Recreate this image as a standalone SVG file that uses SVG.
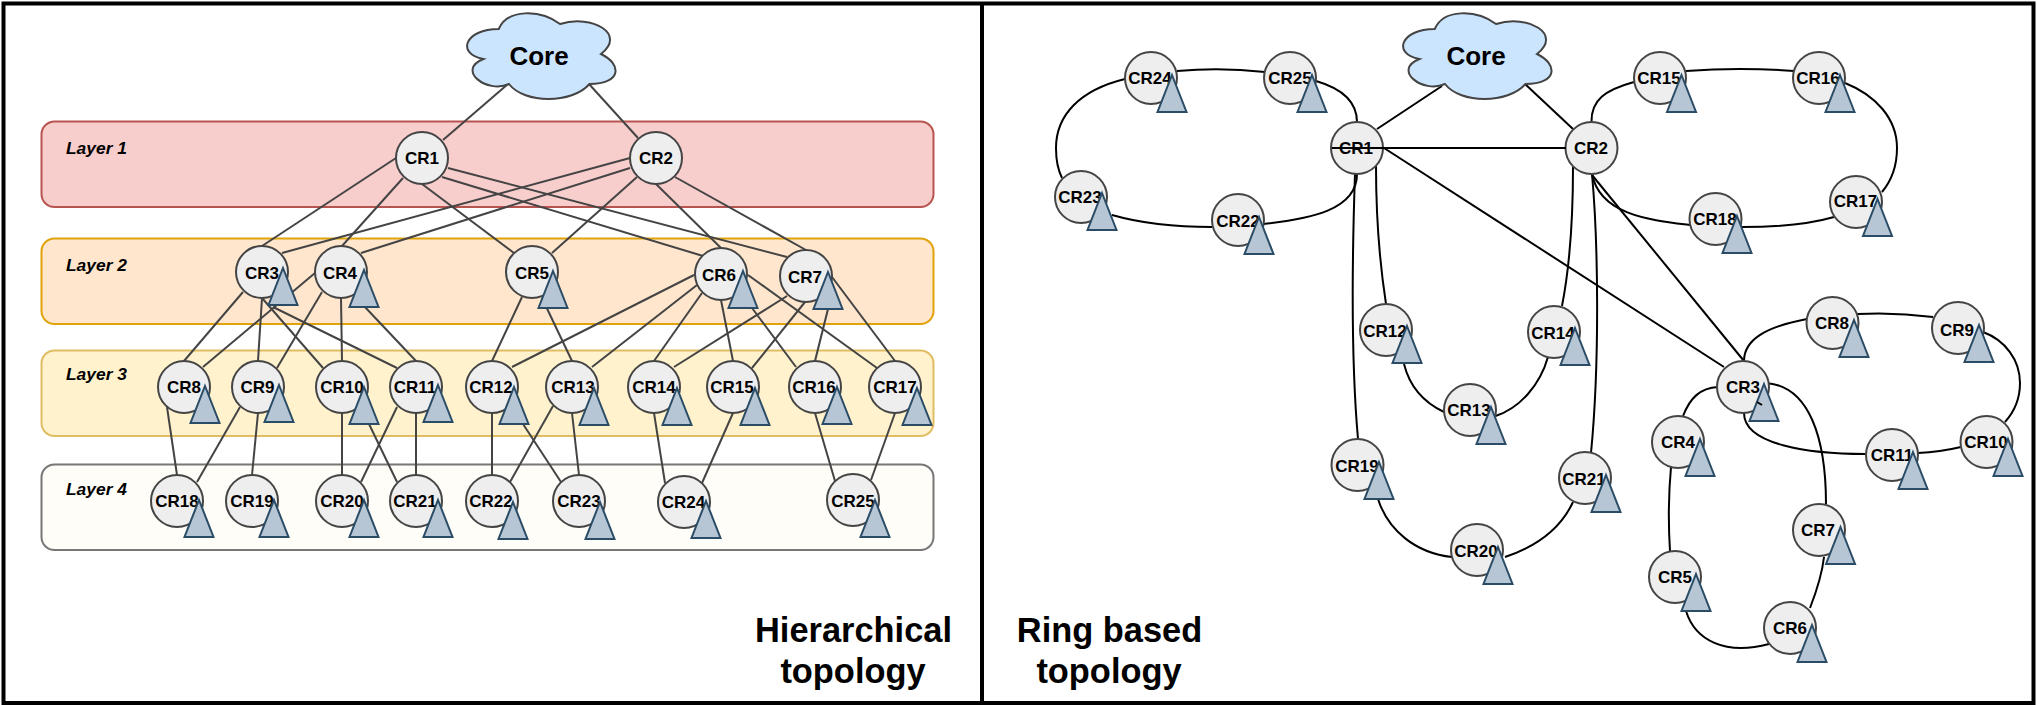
<svg xmlns="http://www.w3.org/2000/svg" width="2037" height="705" viewBox="0 0 2037 705">
<style>
text{font-family:"Liberation Sans",Arial,sans-serif;font-weight:bold;fill:#000;text-anchor:middle}
.n circle{fill:#eeeeee;stroke:#444;stroke-width:2}
.n text{font-size:17px}
.cloud{fill:#cce5ff;stroke:#444;stroke-width:2}
.tri{fill:#b6c6d4;stroke:#2b4c66;stroke-width:2}
.h line{stroke:#444;stroke-width:2}
.r path,.r line{stroke:#000;stroke-width:2;fill:none}
.ly text{font-size:17.4px;font-style:italic;text-anchor:start}
.ly rect{stroke-width:2}
.core{font-size:26px}
.big{font-size:34.4px}
.frame{fill:none;stroke:#000;stroke-width:4}
</style>
<defs>
<path id="tri" class="tri" d="M0 0L14.5 37H-14.5Z"/>
<path id="cl" class="cloud" d="M42.75 25C8.55 25 0 50 27.36 55C0 66 30.78 90 53 80C68.4 100 116 100 133.5 80C166 80 166 60 145 50C171 30 136 10 104 20C84 5 51.3 5 42.75 25Z"/>
</defs>
<rect width="2037" height="705" fill="#fff"/>
<g id="frames">
<rect class="frame" x="3.5" y="3.5" width="2030" height="699.5"/>
<line class="frame" x1="982" y1="3" x2="982" y2="703"/>
</g>
<g id="layers" class="ly">
<g id="layer1"><rect x="41.5" y="121.5" width="892" height="85.5" rx="13" fill="#f8cecc" stroke="#b85450"/><text x="66" y="154">Layer 1</text></g>
<g id="layer2"><rect x="41.5" y="238.5" width="892" height="85.5" rx="13" fill="#ffe6cc" stroke="#e0a30b"/><text x="66" y="271">Layer 2</text></g>
<g id="layer3"><rect x="41.5" y="350.5" width="892" height="85.5" rx="13" fill="#fff2cc" stroke="#e0bd62"/><text x="66" y="380">Layer 3</text></g>
<g id="layer4"><rect x="41.5" y="464.5" width="892" height="85.5" rx="13" fill="#fffdf7" stroke="#777"/><text x="66" y="495">Layer 4</text></g>
</g>
<g id="connectors-hierarchical" class="h">
<line x1="508" y1="84" x2="443" y2="140"/><line x1="589" y1="84" x2="638" y2="138"/>
<line x1="396" y1="158" x2="262" y2="246"/><line x1="403" y1="178" x2="342" y2="246"/><line x1="422" y1="184" x2="514" y2="253"/><line x1="442" y1="177" x2="703" y2="256"/><line x1="448" y1="168" x2="787" y2="257"/>
<line x1="630" y1="158" x2="282" y2="253"/><line x1="630" y1="168" x2="361" y2="253"/><line x1="637" y1="177" x2="552" y2="253"/><line x1="656" y1="184" x2="721" y2="248"/><line x1="675" y1="177" x2="806" y2="250"/>
<line x1="243" y1="292" x2="184" y2="361"/><line x1="262" y1="298" x2="258" y2="361"/><line x1="262" y1="298" x2="323" y2="368"/><line x1="273" y1="307" x2="397" y2="368"/>
<line x1="315" y1="273" x2="203" y2="367"/><line x1="322" y1="292" x2="277" y2="368"/><line x1="341" y1="298" x2="342" y2="361"/><line x1="364" y1="306" x2="416" y2="361"/>
<line x1="522" y1="297" x2="492" y2="361"/><line x1="542" y1="298" x2="572" y2="361"/>
<line x1="694" y1="275" x2="512" y2="367"/><line x1="697" y1="285" x2="592" y2="367"/><line x1="702" y1="293" x2="654" y2="361"/><line x1="721" y1="300" x2="733" y2="361"/><line x1="752" y1="308" x2="796" y2="367"/><line x1="748" y1="275" x2="877" y2="368"/>
<line x1="787" y1="296" x2="674" y2="367"/><line x1="805" y1="302" x2="752" y2="368"/><line x1="828" y1="309" x2="815" y2="361"/><line x1="832" y1="277" x2="895" y2="361"/>
<line x1="167" y1="407" x2="177" y2="475"/><line x1="240" y1="407" x2="197" y2="482"/><line x1="258" y1="413" x2="252" y2="475"/>
<line x1="342" y1="413" x2="342" y2="475"/><line x1="369" y1="424" x2="397" y2="482"/><line x1="397" y1="407" x2="361" y2="482"/><line x1="416" y1="413" x2="416" y2="475"/>
<line x1="492" y1="413" x2="492" y2="475"/><line x1="523" y1="424" x2="561" y2="482"/><line x1="553" y1="406" x2="510" y2="482"/><line x1="572" y1="413" x2="579" y2="475"/>
<line x1="654" y1="413" x2="665" y2="483"/><line x1="733" y1="413" x2="702" y2="483"/><line x1="815" y1="413" x2="835" y2="481"/><line x1="895" y1="413" x2="871" y2="480"/>
</g>
<g id="connectors-ring" class="r">
<line x1="1442" y1="86" x2="1377" y2="129"/><line x1="1525" y1="84" x2="1573" y2="129"/>
<line x1="1384" y1="148" x2="1724" y2="367"/><line x1="1592" y1="175" x2="1744" y2="361"/>
<path d="M1357 122C1357 100 1340 88 1316 81"/>
<path d="M1265 72Q1221 67 1177 71"/>
<path d="M1125 79C1080 90 1056 115 1056 148C1056 160 1058 170 1062 178"/>
<path d="M1112 215C1140 223 1170 227 1212 227"/>
<path d="M1263 224C1310 219 1357 210 1357 174"/>
<path d="M1355 174C1352 260 1351 360 1358 439"/>
<path d="M1376 166C1376 220 1380 265 1386 304"/>
<path d="M1404 364C1410 388 1425 403 1444 412"/>
<path d="M1495.5 416C1520 408 1540 385 1548 357"/>
<path d="M1573 167C1573 220 1570 265 1562 306"/>
<path d="M1592 174C1598 240 1600 360 1591 453"/>
<path d="M1378 499C1388 530 1415 553 1452 557"/>
<path d="M1505 557C1535 547 1560 530 1573 502"/>
<path d="M1591.5 122C1591 100 1605 90 1634 82"/>
<path d="M1686 71Q1740 67 1794 71"/>
<path d="M1845 83C1875 95 1897 118 1897 148C1897 165 1892 180 1882 192"/>
<path d="M1834 217C1810 224 1775 227 1742 227"/>
<path d="M1690 225C1650 220 1600 215 1592 174"/>
<path d="M1744 361C1744 340 1765 327 1807 319"/>
<path d="M1857.5 314Q1895 312 1933 317"/>
<path d="M1983 332C2005 340 2020 360 2020 383C2020 400 2014 412 2005 422"/>
<path d="M1961 447Q1940 452 1918 453"/>
<path d="M1865.5 454C1810 454 1744 445 1744 413"/>
<path d="M1718 387C1700 388 1690 398 1683 416"/>
<path d="M1765 383C1810 385 1826 440 1826 504"/>
<path d="M1671 467C1668 500 1668 520 1670 551"/>
<path d="M1686 611C1695 640 1725 656 1769 644"/>
<path d="M1810 608C1817 590 1822 575 1824 557"/>
</g>
<g id="core-h"><use href="#cl" x="456" y="4"/><text class="core" x="539" y="65">Core</text></g>
<g id="core-r"><use href="#cl" x="1392" y="4"/><text class="core" x="1476" y="65">Core</text></g>
<g id="h-CR1" class="n"><circle cx="422" cy="158" r="26"/><text x="422" y="164">CR1</text></g>
<g id="h-CR2" class="n"><circle cx="656" cy="158" r="26"/><text x="656" y="164">CR2</text></g>
<g id="h-CR3" class="n"><circle cx="262" cy="272" r="26"/><text x="262" y="279">CR3</text><use href="#tri" x="283" y="268"/></g>
<g id="h-CR4" class="n"><circle cx="341" cy="272" r="26"/><text x="340" y="279">CR4</text><use href="#tri" x="364" y="270"/></g>
<g id="h-CR5" class="n"><circle cx="532" cy="272" r="26"/><text x="532" y="279">CR5</text><use href="#tri" x="553" y="271"/></g>
<g id="h-CR6" class="n"><circle cx="721" cy="274" r="26"/><text x="719" y="281">CR6</text><use href="#tri" x="743" y="271"/></g>
<g id="h-CR7" class="n"><circle cx="806" cy="276" r="26"/><text x="805" y="283">CR7</text><use href="#tri" x="828" y="272"/></g>
<g id="h-CR8" class="n"><circle cx="184" cy="387" r="26"/><text x="184" y="393">CR8</text><use href="#tri" x="205" y="386"/></g>
<g id="h-CR9" class="n"><circle cx="258" cy="387" r="26"/><text x="257.5" y="393">CR9</text><use href="#tri" x="279" y="385"/></g>
<g id="h-CR10" class="n"><circle cx="342" cy="387" r="26"/><text x="342" y="393">CR10</text><use href="#tri" x="364" y="387"/></g>
<g id="h-CR11" class="n"><circle cx="416" cy="387" r="26"/><text x="415" y="393">CR11</text><use href="#tri" x="438" y="385"/></g>
<g id="h-CR12" class="n"><circle cx="492" cy="387" r="26"/><text x="491" y="393">CR12</text><use href="#tri" x="514" y="387"/></g>
<g id="h-CR13" class="n"><circle cx="572" cy="387" r="26"/><text x="573" y="393">CR13</text><use href="#tri" x="594" y="388"/></g>
<g id="h-CR14" class="n"><circle cx="654" cy="387" r="26"/><text x="654" y="393">CR14</text><use href="#tri" x="677" y="388"/></g>
<g id="h-CR15" class="n"><circle cx="733" cy="387" r="26"/><text x="732" y="393">CR15</text><use href="#tri" x="755" y="388"/></g>
<g id="h-CR16" class="n"><circle cx="815" cy="387" r="26"/><text x="814" y="393">CR16</text><use href="#tri" x="837" y="387"/></g>
<g id="h-CR17" class="n"><circle cx="895" cy="387" r="26"/><text x="895" y="393">CR17</text><use href="#tri" x="917" y="388"/></g>
<g id="h-CR18" class="n"><circle cx="177" cy="501" r="26"/><text x="177" y="507">CR18</text><use href="#tri" x="199" y="500"/></g>
<g id="h-CR19" class="n"><circle cx="252" cy="501" r="26"/><text x="252" y="507">CR19</text><use href="#tri" x="274" y="500"/></g>
<g id="h-CR20" class="n"><circle cx="342" cy="501" r="26"/><text x="342" y="507">CR20</text><use href="#tri" x="364" y="500"/></g>
<g id="h-CR21" class="n"><circle cx="416" cy="501" r="26"/><text x="415" y="507">CR21</text><use href="#tri" x="438" y="500"/></g>
<g id="h-CR22" class="n"><circle cx="492" cy="501" r="26"/><text x="491" y="507">CR22</text><use href="#tri" x="513" y="502"/></g>
<g id="h-CR23" class="n"><circle cx="579" cy="501" r="26"/><text x="579" y="507">CR23</text><use href="#tri" x="600" y="502"/></g>
<g id="h-CR24" class="n"><circle cx="684" cy="502" r="26"/><text x="683.5" y="508">CR24</text><use href="#tri" x="706" y="501"/></g>
<g id="h-CR25" class="n"><circle cx="853" cy="500" r="26"/><text x="853" y="507">CR25</text><use href="#tri" x="875" y="500"/></g>
<g id="r-CR1" class="n"><circle cx="1357" cy="148" r="26"/><text x="1356" y="154">CR1</text></g>
<g id="r-CR2" class="n"><circle cx="1591.5" cy="148" r="26"/><text x="1591" y="154">CR2</text></g>
<g id="r-CR3" class="n"><circle cx="1743" cy="387" r="26"/><text x="1743" y="393">CR3</text><use href="#tri" x="1764" y="384"/></g>
<g id="r-CR4" class="n"><circle cx="1678" cy="442" r="26"/><text x="1678" y="448">CR4</text><use href="#tri" x="1700" y="439"/></g>
<g id="r-CR5" class="n"><circle cx="1675" cy="577" r="26"/><text x="1675" y="583">CR5</text><use href="#tri" x="1696" y="574"/></g>
<g id="r-CR6" class="n"><circle cx="1790" cy="628" r="26"/><text x="1790" y="634">CR6</text><use href="#tri" x="1812" y="625"/></g>
<g id="r-CR7" class="n"><circle cx="1819" cy="530" r="26"/><text x="1818" y="536">CR7</text><use href="#tri" x="1840.5" y="527"/></g>
<g id="r-CR8" class="n"><circle cx="1832.5" cy="323" r="26"/><text x="1832" y="329">CR8</text><use href="#tri" x="1854" y="320"/></g>
<g id="r-CR9" class="n"><circle cx="1958" cy="328" r="26"/><text x="1957" y="336">CR9</text><use href="#tri" x="1979" y="325"/></g>
<g id="r-CR10" class="n"><circle cx="1986.5" cy="442" r="26"/><text x="1986" y="448">CR10</text><use href="#tri" x="2008" y="439"/></g>
<g id="r-CR11" class="n"><circle cx="1892" cy="455" r="26"/><text x="1892" y="461">CR11</text><use href="#tri" x="1913" y="452"/></g>
<g id="r-CR12" class="n"><circle cx="1386" cy="330" r="26"/><text x="1385" y="337">CR12</text><use href="#tri" x="1407" y="326"/></g>
<g id="r-CR13" class="n"><circle cx="1470" cy="410" r="26"/><text x="1469" y="416">CR13</text><use href="#tri" x="1491" y="407"/></g>
<g id="r-CR14" class="n"><circle cx="1554" cy="332" r="26"/><text x="1553" y="339">CR14</text><use href="#tri" x="1575" y="328"/></g>
<g id="r-CR15" class="n"><circle cx="1660" cy="78" r="26"/><text x="1659" y="84">CR15</text><use href="#tri" x="1681.5" y="75"/></g>
<g id="r-CR16" class="n"><circle cx="1819" cy="78" r="26"/><text x="1818" y="84">CR16</text><use href="#tri" x="1840" y="75"/></g>
<g id="r-CR17" class="n"><circle cx="1856" cy="202" r="26"/><text x="1855.5" y="207">CR17</text><use href="#tri" x="1877.5" y="199"/></g>
<g id="r-CR18" class="n"><circle cx="1715.5" cy="219" r="26"/><text x="1715" y="225">CR18</text><use href="#tri" x="1737" y="216"/></g>
<g id="r-CR19" class="n"><circle cx="1357.5" cy="465" r="26"/><text x="1357" y="472">CR19</text><use href="#tri" x="1379" y="462"/></g>
<g id="r-CR20" class="n"><circle cx="1477" cy="550" r="26"/><text x="1476" y="557">CR20</text><use href="#tri" x="1498" y="547"/></g>
<g id="r-CR21" class="n"><circle cx="1585" cy="478" r="26"/><text x="1584" y="485">CR21</text><use href="#tri" x="1606" y="475"/></g>
<g id="r-CR22" class="n"><circle cx="1238" cy="220" r="26"/><text x="1238" y="227">CR22</text><use href="#tri" x="1259" y="217"/></g>
<g id="r-CR23" class="n"><circle cx="1081" cy="197" r="26"/><text x="1080" y="203">CR23</text><use href="#tri" x="1102" y="193"/></g>
<g id="r-CR24" class="n"><circle cx="1151" cy="78" r="26"/><text x="1150" y="84">CR24</text><use href="#tri" x="1172" y="75"/></g>
<g id="r-CR25" class="n"><circle cx="1290" cy="78" r="26"/><text x="1290" y="84">CR25</text><use href="#tri" x="1312" y="75"/></g>
<g id="connectors-top" class="r">
<line x1="1332" y1="148" x2="1566" y2="148"/>
<line x1="1757" y1="402" x2="1762" y2="405"/>
</g>
<g id="titles">
<text class="big" x="853.5" y="642">Hierarchical</text>
<text class="big" x="853" y="683">topology</text>
<text class="big" x="1109.5" y="642">Ring based</text>
<text class="big" x="1109" y="683">topology</text>
</g>
</svg>
